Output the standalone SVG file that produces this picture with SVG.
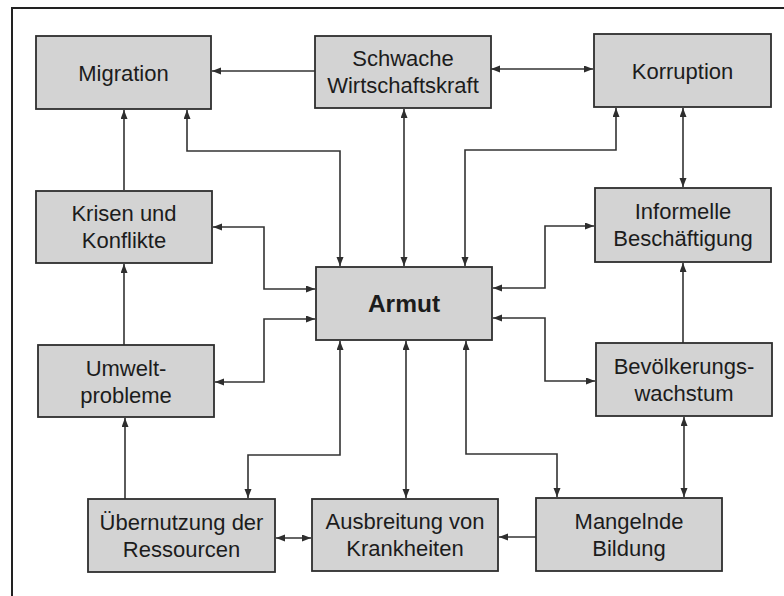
<svg xmlns="http://www.w3.org/2000/svg" width="784" height="596" viewBox="0 0 784 596">
<defs>
<marker id="ah" markerUnits="userSpaceOnUse" markerWidth="10" markerHeight="8" refX="9" refY="3.5" orient="auto-start-reverse">
<path d="M0,0 L9,3.5 L0,7 z" fill="#2e2e2e"/>
</marker>
</defs>
<style>
.box{fill:#d3d3d3;stroke:#2e2e2e;stroke-width:1.8}
.t{font-family:"Liberation Sans",Arial,sans-serif;font-size:22px;fill:#1c1c1c;text-anchor:middle}
.b{font-weight:bold;font-size:24.5px}
.c{fill:none;stroke:#333;stroke-width:1.6}
.e{marker-end:url(#ah)}
.s{marker-start:url(#ah)}
</style>
<rect width="784" height="596" fill="#fff"/>
<path d="M12,600 L12,8 L790,8" fill="none" stroke="#222" stroke-width="2"/>
<g id="connectors">
<path class="c e" d="M315,71 H212"/>
<path class="c s e" d="M491,69 H593"/>
<path class="c e" d="M124,190 V110"/>
<path class="c s e" d="M187,110 V151 H340 V266"/>
<path class="c s e" d="M404,109 V266"/>
<path class="c s e" d="M616,108 V150 H465 V266"/>
<path class="c s e" d="M683,108 V187"/>
<path class="c s e" d="M213,227 H264 V289 H315"/>
<path class="c s e" d="M215,382 H264 V319 H315"/>
<path class="c e" d="M124,345 V264"/>
<path class="c s e" d="M493,288 H545 V226 H594"/>
<path class="c s e" d="M493,318 H545 V381 H595"/>
<path class="c e" d="M683,343 V263"/>
<path class="c s e" d="M684,417 V497"/>
<path class="c s e" d="M406,341 V498"/>
<path class="c s e" d="M466,341 V454 H557 V497"/>
<path class="c s e" d="M340,341 V455 H248 V498"/>
<path class="c s e" d="M276,538 H311"/>
<path class="c e" d="M536,537 H499"/>
<path class="c e" d="M125,499 V418"/>
</g>
<g id="migration"><rect class="box" x="36" y="36" width="175" height="73"/><text class="t" x="123.5" y="80.5">Migration</text></g>
<g id="schwache"><rect class="box" x="315" y="36" width="176" height="72"/><text class="t" x="403" y="66">Schwache</text><text class="t" x="403" y="93">Wirtschaftskraft</text></g>
<g id="korruption"><rect class="box" x="594" y="34" width="177" height="73"/><text class="t" x="682.5" y="78.5">Korruption</text></g>
<g id="krisen"><rect class="box" x="36" y="191" width="176" height="72"/><text class="t" x="124" y="221">Krisen und</text><text class="t" x="124" y="248">Konflikte</text></g>
<g id="umwelt"><rect class="box" x="38" y="345" width="176" height="72"/><text class="t" x="126" y="375.5">Umwelt-</text><text class="t" x="126" y="402.5">probleme</text></g>
<g id="armut"><rect class="box" x="316" y="267" width="176" height="73"/><text class="t b" x="404" y="312">Armut</text></g>
<g id="informelle"><rect class="box" x="595" y="188" width="176" height="74"/><text class="t" x="683" y="219">Informelle</text><text class="t" x="683" y="246">Beschäftigung</text></g>
<g id="bevoelkerung"><rect class="box" x="596" y="343" width="176" height="73"/><text class="t" x="684" y="373.5">Bevölkerungs-</text><text class="t" x="684" y="400.5">wachstum</text></g>
<g id="uebernutzung"><rect class="box" x="88" y="499" width="187" height="73"/><text class="t" x="181.5" y="529.5">Übernutzung der</text><text class="t" x="181.5" y="556.5">Ressourcen</text></g>
<g id="ausbreitung"><rect class="box" x="312" y="499" width="186" height="72"/><text class="t" x="405" y="529">Ausbreitung von</text><text class="t" x="405" y="556">Krankheiten</text></g>
<g id="mangelnde"><rect class="box" x="536" y="498" width="186" height="73"/><text class="t" x="629" y="528.5">Mangelnde</text><text class="t" x="629" y="555.5">Bildung</text></g>
</svg>
